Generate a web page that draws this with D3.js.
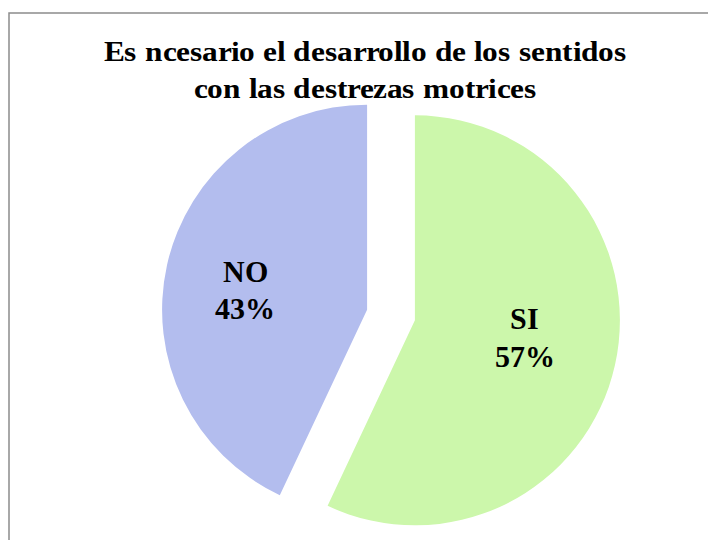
<!DOCTYPE html>
<html>
<head>
<meta charset="utf-8">
<script src="https://cdn.jsdelivr.net/npm/d3@7"></script>
<style>
  @font-face { font-family: "ChartSerif"; src: local("Liberation Serif Bold"), local("LiberationSerif-Bold"), local("Tinos Bold"), local("Tinos-Bold"); font-weight: 700; }
</style>
</head>
<body style="margin:0">
<svg id="chart" width="708" height="540"></svg>
<script>
var categories = ["SI", "NO"];
var percents = [57, 43];
var sliceColors = ["#ccf7ab", "#b3bdee"];
var titleLines = ["Es ncesario el desarrollo de los sentidos", "con las destrezas motrices"];

var cx = 391, cy = 315, radius = 205, explode = 24.5;
var serifStack = "ChartSerif, 'Liberation Serif', Tinos, serif";

var svg = d3.select("#chart");

// chart frame
svg.append("rect")
  .attr("x", 9).attr("y", 13)
  .attr("width", 720).attr("height", 560)
  .attr("fill", "#fff")
  .attr("stroke", "#8c8c8c")
  .attr("stroke-width", 1.5);

svg.selectAll("text.title")
  .data(titleLines)
  .enter().append("text")
  .attr("class", "title")
  .attr("transform", function(d, i) { return "translate(365," + (61 + i * 37) + ") scale(1.08,1)"; })
  .attr("text-anchor", "middle")
  .style("font-family", serifStack)
  .style("font-weight", "bold")
  .style("font-size", "29px")
  .text(function(d) { return d; });

var data = categories.map(function(c, i) { return {key: c, value: percents[i], color: sliceColors[i]}; });

var pie = d3.pie().sort(null).value(function(d) { return d.value; });
var arc = d3.arc().innerRadius(0).outerRadius(radius);
var labelArc = d3.arc().innerRadius(radius * 0.58).outerRadius(radius * 0.58);

var slices = svg.append("g")
  .attr("transform", "translate(" + cx + "," + cy + ")")
  .selectAll("g")
  .data(pie(data))
  .enter().append("g")
  .attr("transform", function(d) {
    var mid = (d.startAngle + d.endAngle) / 2;
    return "translate(" + (Math.sin(mid) * explode) + "," + (-Math.cos(mid) * explode) + ")";
  });

slices.append("path")
  .attr("d", arc)
  .attr("fill", function(d) { return d.data.color; });

// labels sit a bit flatter than the slice mid-angle
var labels = slices.append("text")
  .attr("transform", function(d) {
    var c = labelArc.centroid(d);
    return "translate(" + (c[0] - 6) + "," + (c[1] * 0.7 - 5) + ")";
  })
  .attr("text-anchor", "middle")
  .style("font-family", serifStack)
  .style("font-weight", "bold")
  .style("font-size", "30px")
  .style("fill", "#000");

labels.append("tspan")
  .attr("x", 0).attr("dy", "-0.15em")
  .text(function(d) { return d.data.key; });
labels.append("tspan")
  .attr("x", 0).attr("dy", "1.25em")
  .text(function(d) { return d.data.value + "%"; });
</script>
</body>
</html>
